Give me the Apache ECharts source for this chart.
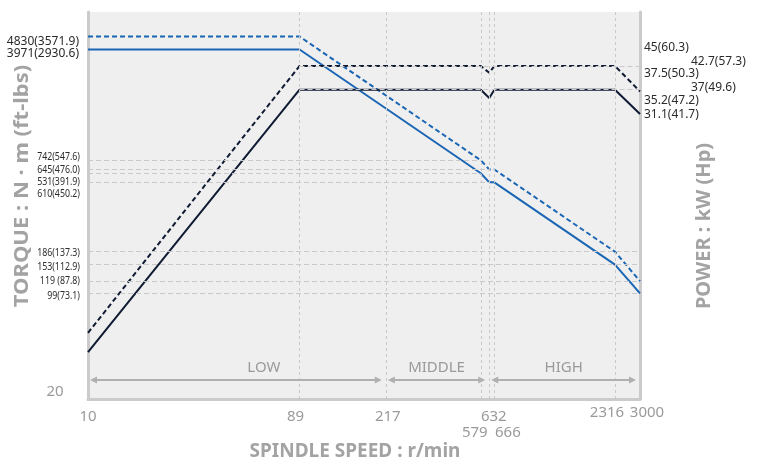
<!DOCTYPE html>
<html>
<head>
<meta charset="utf-8">
<script src="https://cdn.jsdelivr.net/npm/echarts@6/dist/echarts.min.js"></script>
<style>
html,body{margin:0;padding:0;background:#fff}
#chart{width:763px;height:469px}
</style>
</head>
<body>
<div id="chart"></div>
<script>
// Spindle output: torque (N·m) and power (kW) against spindle speed (r/min)
const speeds      = [10, 89, 579, 632, 666, 2316, 3000];
const torqueShort = [4830, 4830, 742, 645, 645, 186, 119];   // short-time rating
const torqueCont  = [3971, 3971, 610, 531, 531, 153, 99];    // continuous rating
const powerShort  = [5.8, 45, 45, 42.7, 45, 45, 37];
const powerCont   = [5.0, 37.5, 37.5, 35.2, 37.5, 37.5, 31.1];

const speedTicks  = [10, 89, 217, 579, 632, 666, 2316, 3000];
const speedGrid   = [89, 217, 579, 632, 666, 2316];

const torqueGrid     = [742, 645, 610, 531, 186, 153, 119, 99];
const torqueGridEnd  = [579, 632, 579, 632, 3000, 3000, 3000, 3000];
const powerGrid      = [45, 37.5];

const torqueTopLabels   = ['4830(3571.9)', '3971(2930.6)'];
const torqueSmallLabels = ['742(547.6)', '645(476.0)', '531(391.9)', '610(450.2)',
                           '186(137.3)', '153(112.9)', '119 (87.8)', '99(73.1)'];
const powerLabels = ['45(60.3)', '42.7(57.3)', '37.5(50.3)', '37(49.6)', '35.2(47.2)', '31.1(41.7)'];
const ranges = [['LOW', 10, 217], ['MIDDLE', 217, 632], ['HIGH', 632, 3000]];

// layout of the free-standing texts
const tickLabelPos = {10:[0,417], 89:[-4,417], 217:[2,417], 579:[-6,433], 632:[4.5,417],
                      666:[13.5,433], 2316:[-8,413], 3000:[7,413]};
const topLabelY   = [42, 54];
const smallLabelY = [157, 170, 182, 194, 253, 267, 281, 296];
const powerLabelXY = [[644,48],[691,62],[644,74],[691,88],[644,101],[644,115]];
const rangeLabelDx = [28, 0, 0];

const BLUE = '#1a66b4', NAVY = '#0f1a33', GRID = '#c9c9c9', FRAME = '#cbcbcb';
const FONT = '"Noto Sans", "Open Sans", sans-serif';

const pairs = (xs, ys) => xs.map((x, i) => [x, ys[i]]);

const hiddenAxis = {
  axisTick: {show: false}, axisLabel: {show: false}, splitLine: {show: false}
};

const chart = echarts.init(document.getElementById('chart'));

const option = {
  animation: false,
  grid: {left: 88, right: 123, top: 12, bottom: 70, show: true,
         backgroundColor: '#efefef', borderWidth: 0},
  xAxis: Object.assign({type: 'log', logBase: 10, min: 10, max: 3000,
    axisLine: {show: true, onZero: false, lineStyle: {color: FRAME, width: 3}}}, hiddenAxis),
  yAxis: [
    Object.assign({type: 'log', logBase: 10, min: 20, max: 7000, position: 'left',
      axisLine: {show: true, onZero: false, lineStyle: {color: FRAME, width: 3}}}, hiddenAxis),
    Object.assign({type: 'log', logBase: 10, min: 3.49, max: 68.1, position: 'right',
      axisLine: {show: true, onZero: false, lineStyle: {color: FRAME, width: 3}}}, hiddenAxis)
  ],
  series: [
    { // speed and torque guide lines
      type: 'line', yAxisIndex: 0, data: [[10, 20]], symbol: 'none', silent: true, z: 1,
      lineStyle: {opacity: 0},
      markLine: {
        silent: true, symbol: 'none', label: {show: false}, animation: false,
        lineStyle: {color: GRID, width: 1, type: [3, 3]},
        data: speedGrid.map(v => ({xAxis: v}))
          .concat(torqueGrid.map((v, i) => [
            {coord: [10, v], lineStyle: {type: [5, 3]}},
            {coord: [torqueGridEnd[i], v]}
          ]))
      }
    },
    { // power guide lines
      type: 'line', yAxisIndex: 1, data: [[10, 5]], symbol: 'none', silent: true, z: 1,
      lineStyle: {opacity: 0},
      markLine: {
        silent: true, symbol: 'none', label: {show: false}, animation: false,
        lineStyle: {color: GRID, width: 1, type: [5, 3]},
        data: powerGrid.map(v => [{coord: [89, v]}, {coord: [3000, v]}])
      }
    },
    {name: 'Torque S', type: 'line', yAxisIndex: 0, data: pairs(speeds, torqueShort),
     symbol: 'none', z: 3, lineStyle: {color: BLUE, width: 2, type: [5, 3]}},
    {name: 'Torque C', type: 'line', yAxisIndex: 0, data: pairs(speeds, torqueCont),
     symbol: 'none', z: 3, lineStyle: {color: BLUE, width: 2}},
    {name: 'Power S', type: 'line', yAxisIndex: 1, data: pairs(speeds, powerShort),
     symbol: 'none', z: 3, lineStyle: {color: NAVY, width: 2, type: [5, 3]}},
    {name: 'Power C', type: 'line', yAxisIndex: 1, data: pairs(speeds, powerCont),
     symbol: 'none', z: 3, lineStyle: {color: NAVY, width: 2}}
  ]
};
chart.setOption(option);

function text(str, x, y, font, fill, align, extra) {
  return Object.assign({
    type: 'text', x: x, y: y, z: 10, silent: true,
    style: {text: str, font: font, fill: fill,
            align: align || 'center', verticalAlign: 'middle',
            textAlign: align || 'center', textVerticalAlign: 'middle'}
  }, extra || {});
}

const px = v => chart.convertToPixel({xAxisIndex: 0}, v);
const g = [];

// speed tick labels
speedTicks.forEach(v => {
  const p = tickLabelPos[v];
  g.push(text(String(v), px(v) + p[0], p[1], '15px ' + FONT, '#9a9a9a'));
});
g.push(text('20', 55, 392, '15px ' + FONT, '#9a9a9a'));

// torque labels
torqueTopLabels.forEach((s, i) => g.push(text(s, 79, topLabelY[i], '12px ' + FONT, '#2b2b2b', 'right')));
torqueSmallLabels.forEach((s, i) => g.push(text(s, 80, smallLabelY[i], '11px ' + FONT, '#2b2b2b', 'right', {scaleX: 0.8})));

// power labels
powerLabels.forEach((s, i) => g.push(text(s, powerLabelXY[i][0], powerLabelXY[i][1], '12px ' + FONT, '#2b2b2b', 'left')));

// speed ranges with double arrows
const arrowY = 380, ARROW = '#b0b0b0';
ranges.forEach((r, i) => {
  const x1 = px(r[1]) + 2, x2 = px(r[2]) - 4;
  g.push({type: 'line', silent: true, z: 5,
          shape: {x1: x1 + 4, y1: arrowY, x2: x2 - 4, y2: arrowY},
          style: {stroke: ARROW, lineWidth: 2}});
  g.push({type: 'polygon', silent: true, z: 5,
          shape: {points: [[x1, arrowY], [x1 + 7, arrowY - 3.5], [x1 + 7, arrowY + 3.5]]},
          style: {fill: ARROW}});
  g.push({type: 'polygon', silent: true, z: 5,
          shape: {points: [[x2, arrowY], [x2 - 7, arrowY - 3.5], [x2 - 7, arrowY + 3.5]]},
          style: {fill: ARROW}});
  g.push(text(r[0], (x1 + x2) / 2 + rangeLabelDx[i], 368, '15px ' + FONT, '#9a9a9a'));
});

// axis titles
g.push(text('SPINDLE SPEED : r/min', 355, 452, 'bold 19px ' + FONT, '#a3a3a3'));
g.push(text('TORQUE : N · m (ft-lbs)', 22, 186, 'bold 20px ' + FONT, '#a3a3a3', 'center',
            {rotation: Math.PI / 2, scaleX: 1.1}));
g.push(text('POWER : kW (Hp)', 704, 226, 'bold 20px ' + FONT, '#a3a3a3', 'center',
            {rotation: Math.PI / 2}));

chart.setOption({graphic: {elements: g}});
</script>
</body>
</html>
